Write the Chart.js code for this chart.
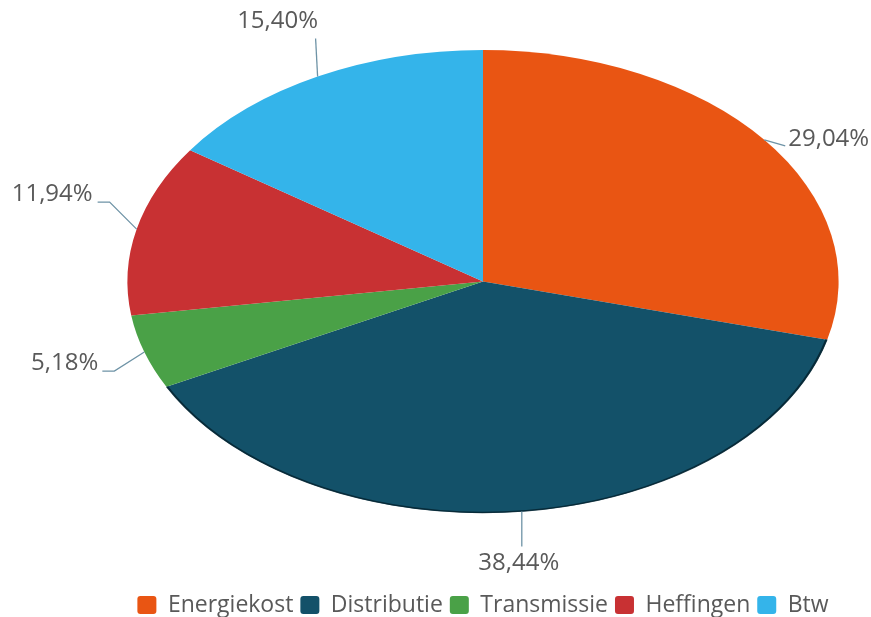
<!DOCTYPE html>
<html>
<head>
<meta charset="utf-8">
<script src="https://cdn.jsdelivr.net/npm/chart.js@4.4.1/dist/chart.umd.min.js"></script>
<style>
  html, body { margin: 0; padding: 0; background: #fff; overflow: hidden; }
  #wrap { width: 871px; height: 627px; }
</style>
</head>
<body>
<div id="wrap"><canvas id="pieChart" width="871" height="627"></canvas></div>
<script>
// data
const categories = ["Energiekost", "Distributie", "Transmissie", "Heffingen", "Btw"];
const shares = [29.04, 38.44, 5.18, 11.94, 15.40];
const sliceColors = ["#E95513", "#135169", "#4AA147", "#C83133", "#34B4EA"];

// where each % label sits, relative to the slice's edge midpoint
const labelLayout = [
  { end: [21, 6], text: [24, -1], align: "left" },
  { end: [0, 35], text: [-3, 52], align: "center" },
  { elbow: [-30, 19], end: [-42, 19], text: [-46, 11], align: "right" },
  { elbow: [-27, -27], end: [-39, -27], text: [-44, -35], align: "right" },
  { end: [-2, -38], text: [-40, -55], align: "center" },
];

const fmt = (v) => v.toFixed(2).replace(".", ",") + "%";

// stretch the pie horizontally so it reads as an ellipse
const ellipsePlugin = {
  id: "ellipse",
  beforeDatasetsDraw(chart, args, opts) {
    const arc = chart.getDatasetMeta(0).data[0];
    const ctx = chart.ctx;
    ctx.save();
    ctx.translate(arc.x, arc.y);
    ctx.scale(opts.scaleX, 1);
    ctx.translate(-arc.x, -arc.y);
  },
  afterDatasetsDraw(chart, args, opts) {
    const ctx = chart.ctx;
    // dark rim along the bottom slice
    const a = chart.getDatasetMeta(0).data[1];
    ctx.beginPath();
    ctx.arc(a.x, a.y, a.outerRadius - 0.5, a.startAngle, a.endAngle);
    ctx.strokeStyle = "rgba(5,35,48,0.85)";
    ctx.lineWidth = 1.5;
    ctx.stroke();
    ctx.restore();
  },
};

const labelPlugin = {
  id: "pctLabels",
  afterDraw(chart, args, opts) {
    const sx = chart.options.plugins.ellipse.scaleX;
    const ctx = chart.ctx;
    const arcs = chart.getDatasetMeta(0).data;
    ctx.save();
    ctx.font = "24px 'Open Sans'";
    ctx.textBaseline = "middle";
    arcs.forEach((arc, i) => {
      const mid = (arc.startAngle + arc.endAngle) / 2;
      const ax = arc.x + sx * arc.outerRadius * Math.cos(mid);
      const ay = arc.y + arc.outerRadius * Math.sin(mid);
      const lay = labelLayout[i];
      ctx.beginPath();
      ctx.moveTo(ax, ay);
      if (lay.elbow) ctx.lineTo(ax + lay.elbow[0], ay + lay.elbow[1]);
      ctx.lineTo(ax + lay.end[0], ay + lay.end[1]);
      ctx.strokeStyle = "#6E93A6";
      ctx.lineWidth = 1.3;
      ctx.stroke();
      ctx.fillStyle = "#595959";
      ctx.textAlign = lay.align;
      ctx.fillText(fmt(shares[i]), ax + lay.text[0], ay + lay.text[1]);
    });
    ctx.restore();
  },
};

const pieCtx = document.getElementById("pieChart").getContext("2d");
const pieChart = new Chart(pieCtx, {
  type: "pie",
  data: {
    labels: categories,
    datasets: [
      {
        data: shares,
        backgroundColor: sliceColors,
        borderWidth: 0,
        hoverOffset: 0,
        clip: false,
      },
    ],
  },
  options: {
    responsive: false,
    animation: false,
    events: [],
    layout: { padding: { top: 50, bottom: 0.5, left: 100, right: 5 } },
    plugins: {
      ellipse: { scaleX: 1.536 },
      tooltip: { enabled: false },
      legend: {
        position: "bottom",
        title: { display: true, text: "", padding: { top: 61.5, bottom: 0 }, font: { size: 10 } },
        labels: {
          boxWidth: 19,
          boxHeight: 18,
          padding: 7,
          useBorderRadius: true,
          borderRadius: 3,
          color: "#595959",
          font: { family: "'Open Sans'", size: 23 },
        },
      },
    },
  },
  plugins: [ellipsePlugin, labelPlugin],
});
</script>
</body>
</html>
